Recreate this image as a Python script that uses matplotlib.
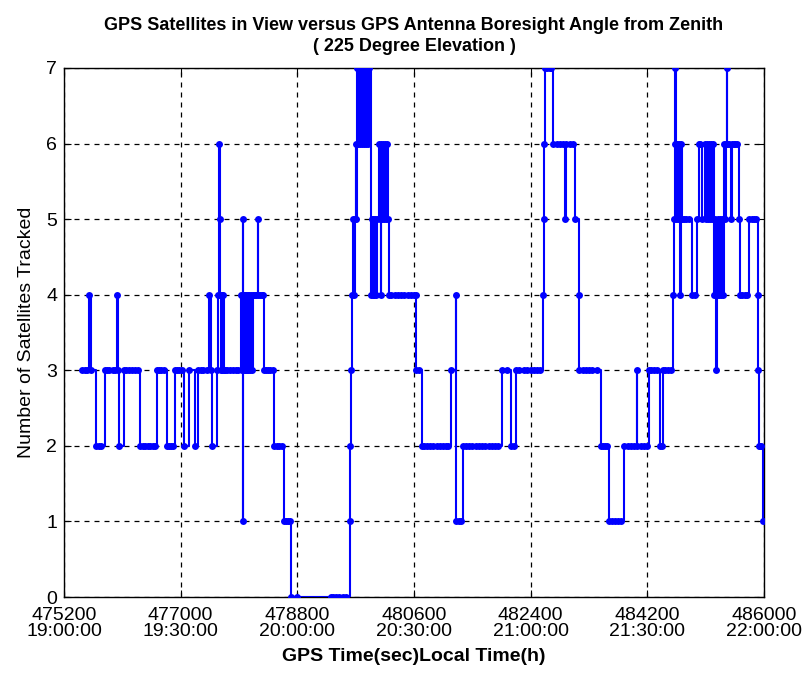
import matplotlib
matplotlib.use("Agg")
import matplotlib.pyplot as plt

plt.rcParams['font.family'] = ['Liberation Sans', 'DejaVu Sans']

# GPS time (s) of each change point
gps_time = [
    475480, 475590, 475610, 475696, 475740, 475826, 475900, 476017, 476030, 476048,
    476120, 476200, 476300, 476379, 476450, 476530, 476637, 476700, 476782, 476850,
    476911, 476980, 477051, 477128, 477221, 477273, 477350, 477439, 477465, 477490,
    477558, 477575, 477585, 477600, 477610, 477625, 477635, 477645, 477655, 477665,
    477680, 477800, 477930, 477945, 477956, 477960, 477965, 477975, 477985, 477995,
    478005, 478015, 478025, 478035, 478045, 478055, 478070, 478085, 478100, 478111,
    478150, 478188, 478195, 478250, 478292, 478350, 478447, 478520, 478602, 478650,
    478705, 478800, 479314, 479350, 479400, 479450, 479500, 479550, 479607, 479615,
    479635, 479650, 479665, 479680, 479690, 479700, 479712, 479725, 479740, 479755,
    479770, 479785, 479800, 479815, 479830, 479845, 479860, 479875, 479890, 479905,
    479931, 479945, 479960, 479975, 479990, 480005, 480020, 480034, 480059, 480070,
    480085, 480095, 480110, 480125, 480140, 480155, 480170, 480185, 480200, 480214,
    480300, 480400, 480500, 480625, 480635, 480727, 480800, 480900, 481000, 481100,
    481164, 481241, 481252, 481300, 481360, 481450, 481550, 481650, 481750, 481850,
    481951, 482030, 482097, 482140, 482176, 482300, 482400, 482500, 482593, 482605,
    482612, 482619, 482700, 482750, 482850, 482932, 482945, 483000, 483089, 483141,
    483151, 483250, 483350, 483480, 483550, 483610, 483700, 483800, 483845, 483950,
    484038, 484046, 484100, 484221, 484300, 484393, 484420, 484435, 484520, 484602,
    484615, 484625, 484633, 484640, 484650, 484665, 484680, 484690, 484706, 484715,
    484725, 484732, 484800, 484889, 484930, 484967, 484993, 485020, 485045, 485097,
    485110, 485125, 485140, 485155, 485170, 485185, 485200, 485215, 485228, 485240,
    485252, 485264, 485270, 485290, 485300, 485315, 485330, 485345, 485360, 485384,
    485400, 485410, 485426, 485435, 485460, 485489, 485500, 485560, 485619, 485625,
    485700, 485775, 485850, 485906, 485912, 485920, 485960, 485985,
]

# Number of satellites tracked at each change point
sats_tracked = [
    3, 4, 3, 2, 2, 3, 3, 4, 3, 2,
    3, 3, 3, 2, 2, 2, 3, 3, 2, 2,
    3, 3, 2, 3, 2, 3, 3, 4, 3, 2,
    3, 4, 6, 5, 4, 3, 4, 3, 4, 3,
    3, 3, 4, 3, 5, 1, 3, 4, 3, 4,
    3, 4, 3, 4, 3, 4, 3, 4, 3, 4,
    4, 5, 4, 4, 3, 3, 2, 2, 1, 1,
    0, 0, 0, 0, 0, 0, 0, 0, 1, 2,
    3, 4, 5, 4, 5, 6, 5, 7, 6, 7,
    6, 7, 6, 7, 6, 7, 6, 7, 6, 7,
    4, 5, 4, 5, 4, 5, 4, 5, 6, 5,
    4, 6, 5, 6, 5, 6, 5, 6, 5, 4,
    4, 4, 4, 4, 3, 2, 2, 2, 2, 2,
    3, 4, 1, 1, 2, 2, 2, 2, 2, 2,
    3, 3, 2, 2, 3, 3, 3, 3, 4, 5,
    6, 7, 7, 6, 6, 5, 6, 6, 5, 4,
    3, 3, 3, 2, 2, 1, 1, 1, 2, 2,
    3, 2, 2, 3, 3, 2, 2, 3, 3, 4,
    5, 6, 7, 6, 5, 6, 5, 6, 4, 5,
    6, 5, 5, 4, 4, 5, 6, 6, 5, 6,
    5, 6, 5, 6, 5, 6, 5, 6, 4, 5,
    4, 3, 4, 5, 4, 5, 4, 5, 4, 6,
    5, 6, 7, 6, 6, 5, 6, 6, 5, 4,
    4, 5, 5, 4, 3, 2, 2, 1,
]

# Further samples read from the dense (thick) stretches of the trace
extra_time = [
    475520, 475550, 475770, 475870, 475950, 475990, 476160, 476250, 476340,
    476420, 476500, 476580, 476610, 476670, 476740, 476820, 476880, 476940,
    477020, 477310, 477400, 477720, 477760, 477850, 477890, 478130, 478170,
    478220, 478270, 478320, 478380, 478420, 478480, 478560, 478630, 478680,
    480250, 480350, 480450, 480550, 480600, 480680, 480760, 480850, 480950,
    481050, 481130, 481330, 481400, 481500, 481600, 481700, 481800, 481900,
    482220, 482350, 482450, 482550, 482650, 482720, 482800, 482900, 483050,
    483200, 483300, 483420, 483520, 483580, 483650, 483750, 483900, 484000,
    484150, 484190, 484260, 484350, 484480, 484560, 484760, 484850, 485530,
    485590, 485660, 485740, 485810, 485880, 485940,
]
extra_sats = [
    3, 3, 2, 3, 3, 3, 3, 3, 3,
    2, 2, 2, 2, 3, 3, 2, 2, 3,
    3, 3, 3, 3, 3, 3, 3, 4, 4,
    4, 4, 3, 3, 3, 2, 2, 1, 1,
    4, 4, 4, 4, 4, 3, 2, 2, 2,
    2, 2, 1, 2, 2, 2, 2, 2, 2,
    3, 3, 3, 3, 7, 7, 6, 6, 6,
    3, 3, 3, 2, 2, 1, 1, 2, 2,
    2, 2, 3, 3, 3, 3, 5, 5, 6,
    6, 4, 4, 5, 5, 2,
]

x_ticks = [475200, 477000, 478800, 480600, 482400, 484200, 486000]
x_tick_labels = ["475200\n19:00:00", "477000\n19:30:00", "478800\n20:00:00",
                 "480600\n20:30:00", "482400\n21:00:00", "484200\n21:30:00",
                 "486000\n22:00:00"]
y_ticks = [0, 1, 2, 3, 4, 5, 6, 7]

pairs = sorted(zip(gps_time + extra_time, sats_tracked + extra_sats))
t_all = [p[0] for p in pairs]
s_all = [p[1] for p in pairs]

fig = plt.figure(figsize=(8.04, 6.75), dpi=100)
ax = fig.add_axes([64/804, 1-597/675, 700/804, 529/675])

ax.plot(t_all, s_all, drawstyle='steps-post', color=(0, 0, 1),
        linewidth=1.5, marker='o', markersize=5, markeredgewidth=0, zorder=3)

ax.set_xlim(475200, 486000)
ax.set_ylim(0, 7)
ax.set_xticks(x_ticks)
ax.set_xticklabels(x_tick_labels, fontsize=14, linespacing=0.95)
ax.set_yticks(y_ticks)
ax.set_yticklabels([str(v) for v in y_ticks], fontsize=14)
ax.tick_params(direction='in', length=5, top=True, right=True, width=0.8)
ax.tick_params(axis='x', pad=7)
ax.tick_params(axis='y', pad=5)
ax.grid(True, color='black', linestyle=(0, (4, 4)), linewidth=0.9)
for s in ax.spines.values():
    s.set_linewidth(1.0)

ax.set_xlabel("GPS Time(sec)Local Time(h)", fontsize=14, fontweight='bold', labelpad=6)
ax.set_ylabel("Number of Satellites Tracked", fontsize=14, labelpad=8)
ax.set_title("GPS Satellites in View versus GPS Antenna Boresight Angle from Zenith\n( 225 Degree Elevation )",
             fontsize=13, fontweight='bold', pad=12, linespacing=1.35)

fig.savefig("out.png", dpi=100)
